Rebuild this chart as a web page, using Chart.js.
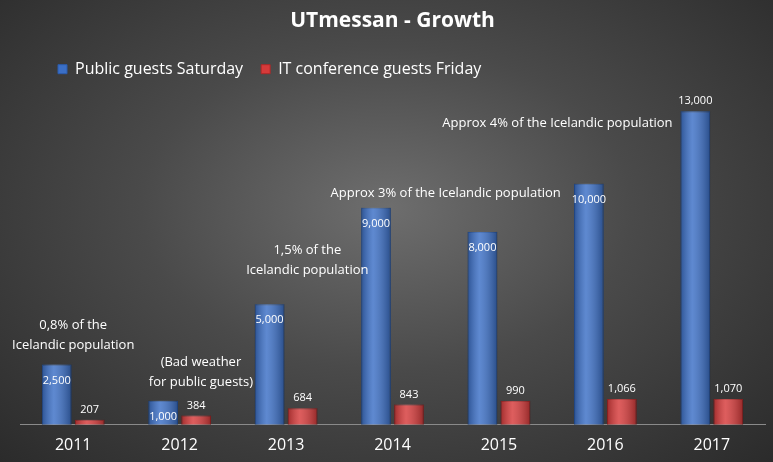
<!DOCTYPE html>
<html><head><meta charset="utf-8">
<script src="https://cdn.jsdelivr.net/npm/chart.js@4"></script>
<style>
html,body{margin:0;padding:0;}
body{width:773px;height:462px;background:radial-gradient(ellipse at 50% 45%,#6e6e6e 0%,#4a4a4a 45%,#2b2b2b 100%);}
#wrap{width:773px;height:462px;}
</style></head><body>
<div id="wrap"><canvas id="chart"></canvas></div>
<script>
const years = ["2011","2012","2013","2014","2015","2016","2017"];
const publicGuests = [2500,1000,5000,9000,8000,10000,13000];
const itGuests = [207,384,684,843,990,1066,1070];
const notes = [
  {idx:0, value:3300, lines:["0,8% of the","Icelandic population"], dx:0},
  {idx:1, value:1750, lines:["(Bad weather","for public guests)"], dx:0.2},
  {idx:2, value:6400, lines:["1,5% of the","Icelandic population"], dx:0.2},
  {idx:3, value:9600, lines:["Approx 3% of the Icelandic population"], dx:0.5},
  {idx:5, value:12500, lines:["Approx 4% of the Icelandic population"], dx:-0.45}
];

const fmt = v => v.toLocaleString("en-US");

// cylinder-ish shading drawn over the bars
const labelPlugin = {
  id: "labels",
  afterDatasetsDraw(chart) {
    const c = chart.ctx;
    c.save();
    [0, 1].forEach(d => {
      chart.getDatasetMeta(d).data.forEach(b => {
        const g = c.createLinearGradient(b.x - b.width/2, 0, b.x + b.width/2, 0);
        g.addColorStop(0, "rgba(0,0,0,0.25)");
        g.addColorStop(0.4, "rgba(255,255,255,0.18)");
        g.addColorStop(1, "rgba(0,0,0,0.3)");
        c.fillStyle = g;
        c.fillRect(b.x - b.width/2, b.y, b.width, b.base - b.y);
      });
    });
    c.fillStyle = "#ffffff";
    c.textAlign = "center";
    c.font = "11px 'Open Sans', sans-serif";
    chart.getDatasetMeta(0).data.forEach((b, i) => {
      const last = i === publicGuests.length - 1;
      c.fillText(fmt(publicGuests[i]), b.x, last ? b.y - 10 : b.y + 16);
    });
    chart.getDatasetMeta(1).data.forEach((b, i) => {
      c.fillText(fmt(itGuests[i]), b.x, b.y - 10);
    });
    const xs = chart.scales.x, ys = chart.scales.y;
    c.font = "13px 'Open Sans', sans-serif";
    notes.forEach(n => {
      const x = xs.getPixelForValue(n.idx) + n.dx * (xs.getPixelForValue(1) - xs.getPixelForValue(0));
      const y = ys.getPixelForValue(n.value);
      n.lines.forEach((t, k) => c.fillText(t, x, y - (n.lines.length - 1 - k) * 20));
    });
    c.restore();
  }
};

new Chart(document.getElementById("chart"), {
  type: "bar",
  data: {
    labels: years,
    datasets: [
      { label: "Public guests Saturday", data: publicGuests,
        backgroundColor: "#3b6fc6", borderColor: "#2a5cae", borderWidth: 1 },
      { label: "IT conference guests Friday", data: itGuests,
        backgroundColor: "#d63a3a", borderColor: "#b02828", borderWidth: 1 }
    ]
  },
  options: {
    responsive: true, maintainAspectRatio: false, animation: false,
    layout: { padding: { left: 20, right: 8, bottom: 4 } },
    datasets: { bar: { categoryPercentage: 0.62, barPercentage: 0.9 } },
    plugins: {
      title: { display: true, text: "UTmessan - Growth", color: "#ffffff",
        font: { size: 21, weight: "bold", family: "'Open Sans', sans-serif" }, padding: { top: 8, bottom: 10 } },
      legend: { position: "top", align: "start",
        labels: { color: "#ffffff", boxWidth: 9, boxHeight: 9, padding: 18,
          font: { size: 16, family: "'Open Sans', sans-serif" } } },
      tooltip: { enabled: false }
    },
    scales: {
      x: { grid: { display: false }, border: { color: "#8a8a8a" },
        ticks: { color: "#ffffff", font: { size: 16, family: "'Open Sans', sans-serif" } } },
      y: { display: false, min: 0, max: 14000 }
    }
  },
  plugins: [labelPlugin, {
    id: "legendShift",
    beforeDraw(chart) { chart.legend.left = 40; }
  }]
});
</script>
</body></html>
